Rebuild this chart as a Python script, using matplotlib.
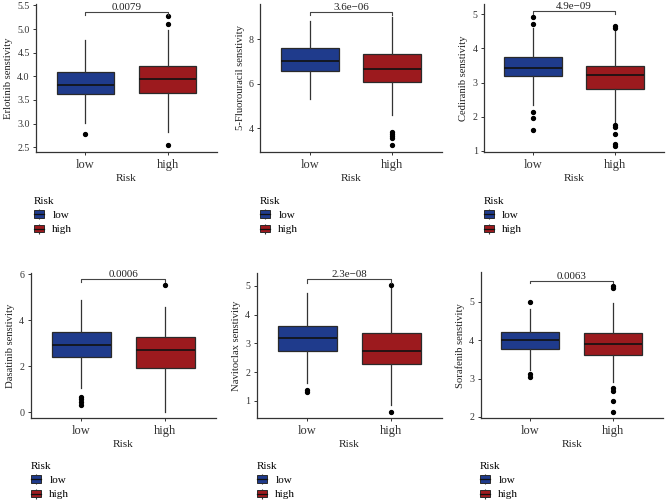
import matplotlib.pyplot as plt
from matplotlib.patches import Patch
from matplotlib.lines import Line2D

plt.rcParams['font.family'] = ['Liberation Serif', 'DejaVu Serif']

# data (box stats per risk group)
drugs = ["Erlotinib", "5-Fluorouracil", "Cediranib", "Dasatinib", "Navitoclax", "Sorafenib"]
pvals = ["0.0079", "3.6e\u221206", "4.9e\u221209", "0.0006", "2.3e\u221208", "0.0063"]
groups = ["low", "high"]

# whislo, q1, med, q3, whishi
low_box = [
    [3.02, 3.62, 3.81, 4.10, 4.76],
    [5.30, 6.59, 7.04, 7.59, 8.84],
    [2.35, 3.18, 3.44, 3.76, 4.60],
    [1.04, 2.40, 2.91, 3.50, 4.88],
    [1.61, 2.75, 3.18, 3.60, 4.75],
    [3.22, 3.77, 4.01, 4.21, 4.81],
]
high_box = [
    [2.82, 3.64, 3.95, 4.22, 4.99],
    [4.59, 6.08, 6.66, 7.35, 9.02],
    [1.86, 2.82, 3.22, 3.49, 4.50],
    [0.00, 1.94, 2.70, 3.26, 4.59],
    [0.85, 2.29, 2.75, 3.35, 4.92],
    [2.92, 3.61, 3.89, 4.18, 4.98],
]
low_out = [
    [2.79],
    [],
    [1.61, 1.97, 2.13, 4.72, 4.93],
    [0.32, 0.45, 0.60, 0.68],
    [1.30, 1.38],
    [3.05, 3.11, 5.00],
]
high_out = [
    [2.55, 5.11, 5.27],
    [3.22, 3.55, 3.65, 3.72, 3.80],
    [1.15, 1.21, 1.51, 1.69, 1.77, 4.59, 4.66],
    [5.53],
    [0.61, 5.05],
    [2.13, 2.42, 2.68, 2.74, 5.36, 5.43],
]

colors = {"low": "#1f3b8c", "high": "#9c1a1e"}

# layout (pixel boxes of each panel: left, top, right, bottom)
W, H = 666, 503
panels = [(36, 4, 217, 152), (260, 4, 442, 152), (484, 4, 664, 152),
          (30.5, 272.5, 216, 418.3), (256.5, 272.5, 442, 418.3), (480.5, 272.5, 663, 418.3)]
ylims = [(2.40, 5.53), (2.92, 9.59), (0.97, 5.30), (-0.26, 6.08), (0.39, 5.47), (1.96, 5.77)]
yticks = [[2.5, 3.0, 3.5, 4.0, 4.5, 5.0, 5.5], [4, 6, 8], [1, 2, 3, 4, 5],
          [0, 2, 4, 6], [1, 2, 3, 4, 5], [2, 3, 4, 5]]
brackets = [(5.36, 5.30), (9.24, 9.09), (5.10, 5.01), (5.80, 5.68), (5.23, 5.12), (5.56, 5.50)]
legend_pos = [(34, 197), (260, 197), (483.5, 197), (31, 462), (257, 462), (480, 462)]

fig = plt.figure(figsize=(W / 100, H / 100), dpi=100)

for i, drug in enumerate(drugs):
    l, t, r, b = panels[i]
    ax = fig.add_axes([l / W, 1 - b / H, (r - l) / W, (b - t) / H])
    stats = []
    for g, box, out in (("low", low_box[i], low_out[i]), ("high", high_box[i], high_out[i])):
        stats.append(dict(label=g, whislo=box[0], q1=box[1], med=box[2],
                          q3=box[3], whishi=box[4], fliers=out))
    res = ax.bxp(stats, positions=[1, 2], widths=0.7, patch_artist=True, showcaps=False,
                 boxprops=dict(edgecolor="#2a2a2a", linewidth=0.9),
                 medianprops=dict(color="#111111", linewidth=1.2),
                 whiskerprops=dict(color="#333333", linewidth=0.9),
                 flierprops=dict(marker="o", markerfacecolor="black",
                                 markeredgecolor="black", markersize=2.8))
    for patch, g in zip(res["boxes"], groups):
        patch.set_facecolor(colors[g])

    ax.set_xlim(0.4, 2.6)
    ax.set_ylim(*ylims[i])
    ax.set_yticks(yticks[i])
    if i == 0:
        ax.set_yticklabels([f"{v:.1f}" for v in yticks[i]])
    ax.set_xticks([1, 2])
    ax.set_xticklabels(groups, fontsize=9)
    ax.tick_params(axis="y", labelsize=7.2, length=2.5, width=0.7, pad=2, colors="#333333")
    ax.tick_params(axis="x", length=2.5, width=0.7, pad=2.5, colors="#333333")
    ax.set_xlabel("Risk", fontsize=8.2, labelpad=2, color="#222222")
    ax.set_ylabel(f"{drug} senstivity", fontsize=7.7, labelpad=3, color="#222222")
    for s in ("top", "right"):
        ax.spines[s].set_visible(False)
    for s in ("left", "bottom"):
        ax.spines[s].set_color("#333333")
        ax.spines[s].set_linewidth(0.9)

    top, drop = brackets[i]
    ax.plot([1, 1, 2, 2], [drop, top, top, drop], color="#444444", lw=0.8, clip_on=False)
    ax.text(1.5, top, pvals[i], ha="center", va="bottom", fontsize=7.9,
            color="#222222", clip_on=False)

    handles = []
    for g in groups:
        handles.append((Line2D([], [], color="#333333", marker="|", linestyle="None",
                               markersize=7.6, markeredgewidth=0.8),
                        Patch(facecolor=colors[g], edgecolor="#2a2a2a", linewidth=0.7),
                        Line2D([], [], color="#111111", linewidth=0.9)))
    lx, ly = legend_pos[i]
    fig.legend(handles, groups, title="Risk", loc="upper left",
               bbox_to_anchor=(lx / W, 1 - ly / H), bbox_transform=fig.transFigure,
               frameon=False, fontsize=8, title_fontsize=8, alignment="left",
               borderpad=0, borderaxespad=0, handlelength=0.9, handleheight=0.7,
               handletextpad=0.75, labelspacing=0.4)

fig.savefig("out.png", dpi=100)
